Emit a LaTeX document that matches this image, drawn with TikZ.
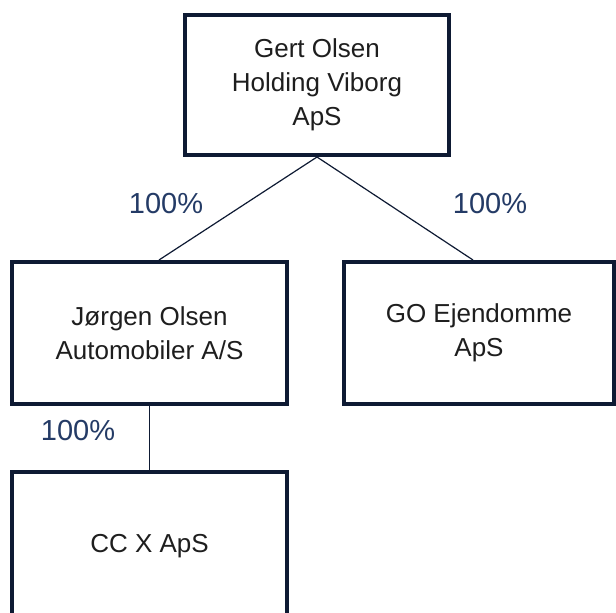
\documentclass[tikz,border=0pt]{standalone}
\usepackage{fontspec}
\setmainfont{Liberation Sans}
\usetikzlibrary{calc}
\definecolor{boxnavy}{HTML}{0E1A33}
\definecolor{pctblue}{HTML}{243B66}
\definecolor{txtgray}{HTML}{1E1E1E}
\begin{document}
\begin{tikzpicture}[x=1pt,y=-1pt,
  company/.style={draw=boxnavy,line width=4pt,fill=white,text=txtgray,align=center,
    font=\fontsize{26}{34}\selectfont,inner sep=0pt},
  share/.style={font=\fontsize{29}{34}\selectfont,text=pctblue},
  owns/.style={draw=boxnavy,line width=1.2pt}]
\useasboundingbox[fill=white] (0,0) rectangle (616,613);

\node[company,minimum width=264pt,minimum height=140pt] (holding) at (317,85)
  {Gert Olsen\\Holding Viborg\\ApS};
\node[company,minimum width=275pt,minimum height=142pt] (jorgen) at (149.5,333)
  {Jørgen Olsen\\Automobiler A/S};
\node[company,minimum width=270pt,minimum height=142pt] (ejendomme) at (479,333)
  {GO Ejendomme\\ApS};
\node[company,minimum width=275pt,minimum height=148pt] (ccx) at (149.5,546)
  {CC X ApS};

\draw[owns] (holding.south) -- ($(jorgen.north)+(9.5,0)$);
\draw[owns] (holding.south) -- ($(ejendomme.north)+(-6,0)$);
\draw[owns] (jorgen.south) -- (ccx.north);

\node[share] (pctjorgen) at (166,204) {100\%};
\node[share] (pctgo) at (490,204) {100\%};
\node[share] (pctccx) at (78,431) {100\%};
\end{tikzpicture}
\end{document}
